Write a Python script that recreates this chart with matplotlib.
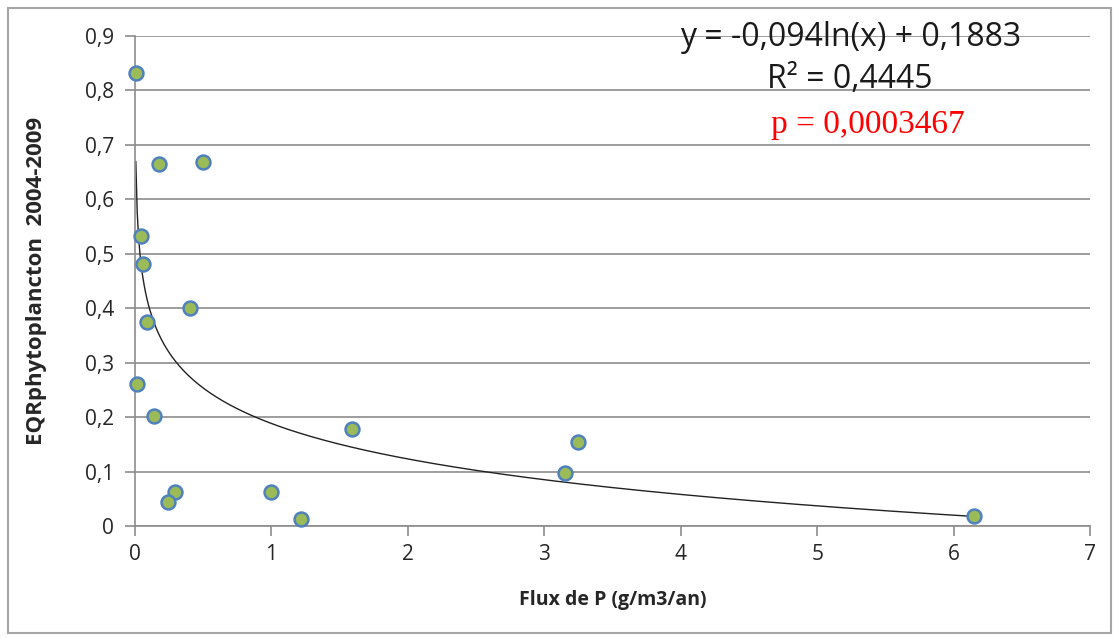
import numpy as np
import matplotlib as mpl
mpl.use('Agg')
import matplotlib.pyplot as plt
from matplotlib.patches import Rectangle

# flux de P (g/m3/an) and EQR phytoplancton values
flux_p = [0.006, 0.176, 0.50, 0.044, 0.059, 0.088, 0.40, 0.015, 0.14,
          1.59, 3.25, 3.15, 0.29, 0.24, 1.00, 1.22, 6.15]
eqr = [0.832, 0.665, 0.669, 0.533, 0.481, 0.375, 0.400, 0.261, 0.202,
       0.178, 0.154, 0.097, 0.062, 0.044, 0.062, 0.013, 0.018]

coef_a = -0.094
coef_b = 0.1883
x_ticks = [0, 1, 2, 3, 4, 5, 6, 7]
y_ticks = [0, 0.1, 0.2, 0.3, 0.4, 0.5, 0.6, 0.7, 0.8, 0.9]

sans = ['Open Sans', 'DejaVu Sans']
grey = '#8c8c8c'

fig = plt.figure(figsize=(11.19, 6.39), dpi=100)
fig.patches.append(Rectangle((8/1119, 6/639), 1 - 16/1119, 1 - 14/639,
                             transform=fig.transFigure, fill=False,
                             edgecolor='#a6a6a6', linewidth=1.5))
ax = fig.add_axes([135/1119, 1 - 526/639, (1090 - 135)/1119, (526 - 36)/639])

# log trend line
xs = np.linspace(min(flux_p), max(flux_p), 600)
ax.plot(xs, coef_a*np.log(xs) + coef_b, color='#222222', lw=1.0, zorder=2)

ax.plot(flux_p, eqr, 'o', ms=10, mfc='#9bbb59', mec='#4f81bd', mew=1.8,
        zorder=3, clip_on=False)

ax.set_xlim(0, 7)
ax.set_ylim(0, 0.9)
ax.set_xticks(x_ticks)
ax.set_yticks(y_ticks)
ax.set_xticklabels([str(v) for v in x_ticks], fontsize=15, family=sans, color='#262626')
ax.set_yticklabels(['0'] + [('%.1f' % v).replace('.', ',') for v in y_ticks[1:]],
                   fontsize=15, family=sans, color='#262626')
ax.yaxis.grid(True, color=grey, lw=1.2)
ax.set_axisbelow(True)
for s in ['top', 'right']:
    ax.spines[s].set_visible(False)
for s in ['left', 'bottom']:
    ax.spines[s].set_color(grey)
    ax.spines[s].set_linewidth(1.2)
ax.tick_params(axis='x', length=7, color=grey, width=1.2, pad=6)
ax.tick_params(axis='y', length=7, color=grey, width=1.2, pad=8)

ax.set_xlabel('Flux de P (g/m3/an)', fontsize=14, fontweight='bold',
              family=sans, labelpad=18, color='#262626')
ax.set_ylabel('EQRphytoplancton  2004-2009', fontsize=16, fontweight='bold',
              family=sans, labelpad=27, color='#262626')

fig.text(851/1119, 1 - 38/639, 'y = -0,094ln(x) + 0,1883', ha='center', va='center',
         fontsize=23, family=sans, color='#1a1a1a')
fig.text(850/1119, 1 - 79/639, 'R² = 0,4445', ha='center', va='center',
         fontsize=23, family=sans, color='#1a1a1a')
fig.text(868/1119, 1 - 125/639, 'p = 0,0003467', ha='center', va='center',
         fontsize=24, family=['Liberation Serif', 'DejaVu Serif'], color='red')

fig.savefig('out.png', dpi=100)
